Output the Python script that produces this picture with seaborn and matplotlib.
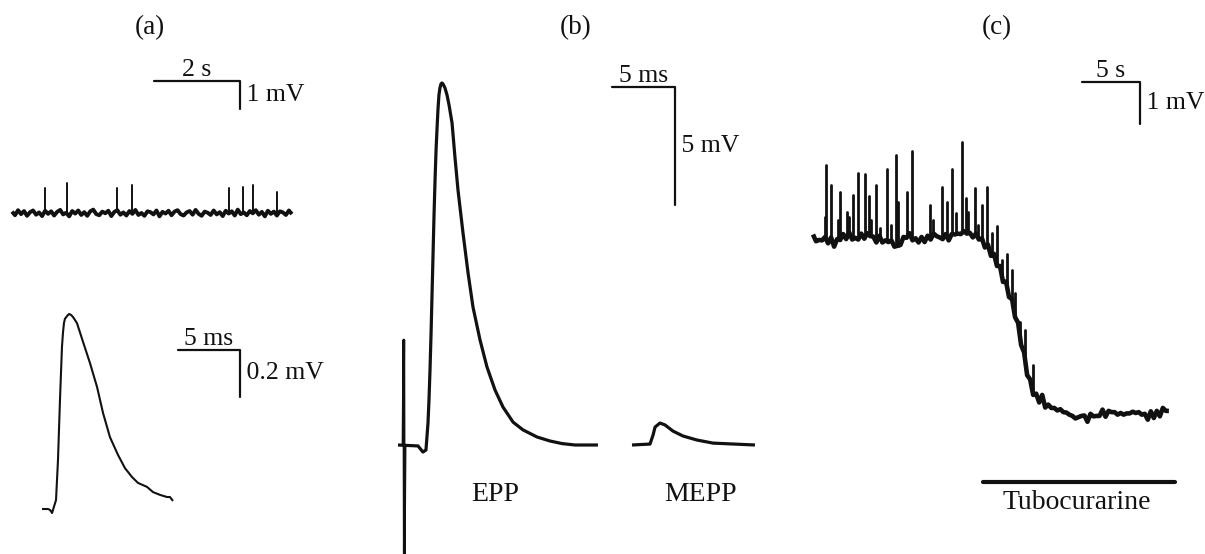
import numpy as np
import pandas as pd
import matplotlib
matplotlib.use("Agg")
import matplotlib.pyplot as plt
import seaborn as sns

# ---- data ----
# (a) top: spontaneous MEPPs, time in s, potential in mV
a_noise = [0.05, -0.08, 0.10, -0.04, 0.07, -0.10, 0.03, 0.09, -0.06, 0.02,
           -0.11, 0.08, -0.03, 0.06, -0.09, 0.04, 0.11, -0.05, 0.01, -0.12,
           0.07, -0.02, 0.09, -0.07, 0.03, -0.10, 0.06, 0.12, -0.04, -0.08,
           0.05, -0.01, 0.08, -0.11, 0.04, 0.10, -0.06, 0.02, -0.09, 0.07,
           -0.03, 0.11, -0.07, 0.00, -0.10, 0.06, 0.03, -0.05, 0.09, -0.12,
           0.04, -0.02, 0.08, -0.08, 0.05, 0.10, -0.04, -0.09, 0.02, 0.07,
           -0.06, 0.11, -0.03, -0.10, 0.05, 0.01, -0.07, 0.09, -0.05, 0.03,
           -0.11, 0.08, -0.02, 0.06, -0.09, 0.12, -0.04, 0.02, -0.08, 0.07,
           -0.01, 0.10, -0.06, 0.04, -0.12, 0.08, -0.03, 0.05, -0.09, 0.06,
           0.02, -0.07, 0.09, -0.04]
a_dt = 0.07
a_spike_t = [0.77, 1.28, 2.44, 2.79, 5.05, 5.37, 5.60, 6.16]
a_spike_v = [0.89, 1.07, 0.89, 1.00, 0.89, 0.93, 1.00, 0.75]

# (a) bottom: single MEPP, time in ms, potential in mV
mepp_a_t = [0, 0.48, 0.65, 0.81, 1.13, 1.29, 1.45, 1.61, 1.69, 1.77, 1.85,
            2.02, 2.18, 2.34, 2.50, 2.82, 3.31, 3.87, 4.44, 4.92, 5.48, 6.13,
            6.69, 7.26, 7.74, 8.47, 8.95, 9.52, 10.08, 10.32, 10.56]
mepp_a_v = [0, 0, -0.004, -0.017, 0.038, 0.209, 0.464, 0.689, 0.749, 0.791,
            0.809, 0.821, 0.830, 0.826, 0.817, 0.791, 0.711, 0.621, 0.519,
            0.409, 0.306, 0.230, 0.174, 0.136, 0.111, 0.094, 0.072, 0.060,
            0.051, 0.051, 0.034]

# (b) EPP and MEPP, time in ms, potential in mV
epp_t = [0, 1.59, 1.98, 2.22, 2.38, 2.46, 2.54, 2.62, 2.70, 2.78, 2.86, 2.94,
         3.02, 3.10, 3.17, 3.25, 3.33, 3.41, 3.49, 3.57, 3.73, 3.89, 4.05,
         4.29, 4.52, 4.76, 5.16, 5.56, 5.95, 6.51, 7.06, 7.70, 8.33, 9.13,
         9.92, 11.03, 12.06, 13.02, 14.05, 15.87]
epp_v = [0, -0.04, -0.30, -0.21, 0.93, 1.91, 3.18, 4.66, 6.36, 8.05, 9.75,
         11.23, 12.50, 13.43, 14.19, 14.83, 15.13, 15.30, 15.34, 15.30, 15.13,
         14.83, 14.41, 13.64, 12.20, 10.81, 8.98, 7.29, 5.85, 4.45, 3.31, 2.33,
         1.61, 0.97, 0.64, 0.34, 0.17, 0.06, 0, 0]
artifact_t = [0.40, 0.46, 0.50, 0.56]
artifact_v = [0, 4.45, -4.6, 0]
mepp_b_t = [0, 1.43, 1.67, 1.83, 2.22, 2.62, 3.25, 4.05, 5.16, 6.43, 9.76]
mepp_b_v = [0, 0.04, 0.42, 0.76, 0.93, 0.85, 0.59, 0.38, 0.21, 0.08, 0]

# (c) tubocurarine block, time in s, potential in mV
c_dt = 0.26
c_base = [0.02, -0.05, -0.10, -0.02, -0.05, -0.12, -0.07, -0.19, -0.07, -0.02,
          0.02, -0.02, 0.07, 0.00, -0.05, -0.02, 0.02, -0.02, 0.05, 0.07,
          -0.02, -0.07, -0.02, -0.10, -0.12, -0.07, -0.14, -0.19, -0.24, -0.14,
          -0.05, 0.02, 0.07, -0.02, -0.07, -0.10, -0.05, -0.07, 0.00, -0.02,
          0.02, 0.05, -0.05, 0.00, 0.05, -0.02, 0.02, 0.10, 0.05, 0.12,
          0.10, 0.14, 0.05, 0.02, 0.02, -0.02, -0.10, -0.17, -0.24, -0.36,
          -0.48, -0.62, -0.79, -0.98, -1.14, -1.33, -1.57, -1.83, -2.14, -2.48,
          -2.83, -3.19, -3.48, -3.69, -3.81, -3.88, -3.83, -3.98, -4.05, -4.00,
          -4.12, -4.07, -4.17, -4.12, -4.24, -4.19, -4.31, -4.26, -4.33, -4.21,
          -4.31, -4.36, -4.26, -4.21, -4.29, -4.21, -4.17, -4.24, -4.19, -4.14,
          -4.21, -4.17, -4.24, -4.19, -4.26, -4.17, -4.21, -4.14, -4.21, -4.17,
          -4.26, -4.31, -4.21, -4.26, -4.17, -4.21, -4.12, -4.10, -4.17]
c_fuzz = [0.04, -0.05, 0.03, -0.06, 0.05, -0.03, 0.06, -0.04, 0.02, -0.05,
          0.05, -0.03, 0.04, -0.06, 0.03, -0.04, 0.06, -0.02, 0.04, -0.05,
          0.03, -0.06, 0.05, -0.03, 0.04, -0.05, 0.06, -0.04, 0.03, -0.05,
          0.05, -0.04, 0.02, -0.06, 0.04, -0.03, 0.05, -0.05, 0.03, -0.04,
          0.06, -0.03, 0.04, -0.05, 0.02, -0.06, 0.05, -0.04, 0.03, -0.05,
          0.04, -0.06, 0.05, -0.03, 0.06, -0.04, 0.07, -0.08, 0.06, -0.09,
          0.08, -0.07, 0.10, -0.09, 0.08, -0.10, 0.09, -0.08, 0.10, -0.09,
          0.08, -0.10, 0.09, -0.07, 0.08, -0.06, 0.07, -0.08, 0.06, -0.07,
          0.05, -0.06, 0.07, -0.05, 0.06, -0.04, 0.05, -0.06, 0.04, -0.05,
          0.06, -0.04, 0.05, -0.06, 0.03, -0.05, 0.06, -0.04, 0.05, -0.03,
          0.04, -0.06, 0.05, -0.04, 0.06, -0.03, 0.05, -0.05, 0.04, -0.06,
          0.05, -0.04, 0.06, -0.05, 0.03, -0.06, 0.05, -0.04, 0.03]
c_spike_t = [1.03, 1.12, 1.55, 2.16, 2.33, 2.93, 3.10, 3.45, 3.88, 4.48, 4.83,
             5.00, 5.43, 5.78, 6.38, 6.72, 7.16, 7.33, 8.10, 8.53, 10.09, 10.34,
             11.12, 11.55, 11.98, 12.33, 12.84, 13.19, 13.36, 13.97, 14.22,
             14.57, 15.00, 15.43, 15.86, 16.29, 16.72, 17.16, 17.41, 17.84,
             18.28, 18.97]
c_spike_v = [0.48, 1.71, 1.24, 0.40, 1.07, 0.60, 0.48, 1.00, 1.52, 1.50, 0.98,
             0.40, 1.24, 0.21, 1.62, 0.29, 1.95, 0.83, 1.07, 2.05, 0.76, 0.40,
             1.19, 0.83, 1.62, 0.57, 2.26, 0.93, 0.60, 1.17, 0.29, 0.76, 1.19,
             0.10, 0.26, -0.55, -0.40, -0.79, -1.33, -2.02, -2.21, -3.05]
drug_t = [14.66, 31.2]  # tubocurarine application, s

# ---- figure ----
W, H = 1205, 554
sns.set_theme(style="white")
plt.rcParams["font.family"] = ["Liberation Serif", "DejaVu Serif"]
FS_BAR = 18.5
FS_LAB = 20
INK = "#111111"

fig = plt.figure(figsize=(W / 100, H / 100), dpi=100)


def trace_axes(x0, y0, sx, sy):
    # full-figure transparent axes whose data origin sits at pixel (x0, y0)
    ax = fig.add_axes([0, 0, 1, 1])
    ax.set_xlim(-x0 / sx, (W - x0) / sx)
    ax.set_ylim(-(H - y0) / sy, y0 / sy)
    ax.axis("off")
    ax.patch.set_alpha(0)
    return ax


def trace(ax, t, v, lw):
    sns.lineplot(x=t, y=v, ax=ax, color=INK, lw=lw, sort=False,
                 estimator=None, solid_joinstyle="round",
                 solid_capstyle="butt")


def spikes(ax, base_t, base_v, st, sv, lw):
    b = np.interp(st, base_t, base_v)
    df = pd.DataFrame({"t": np.repeat(st, 2),
                       "v": np.ravel(np.column_stack([b, sv])),
                       "id": np.repeat(np.arange(len(st)), 2)})
    sns.lineplot(data=df, x="t", y="v", units="id", estimator=None, ax=ax,
                 color=INK, lw=lw, sort=False)


def scalebar(ax, tx, vy, dx, dy, xlab, ylab, lw=1.6):
    sns.lineplot(x=[tx - dx, tx, tx], y=[vy, vy, vy - dy], ax=ax, color=INK,
                 lw=lw, sort=False, estimator=None)
    ax.text(tx - dx / 2, vy, xlab, ha="center", va="bottom",
            fontsize=FS_BAR, color=INK)
    ax.text(tx, vy - dy / 2, " " + ylab, ha="left", va="center",
            fontsize=FS_BAR, color=INK)


# (a) top
ax_a1 = trace_axes(12, 213, 43.0, 28.0)
a_t = np.arange(len(a_noise)) * a_dt
trace(ax_a1, a_t, a_noise, 2.8)
spikes(ax_a1, a_t, a_noise, a_spike_t, a_spike_v, 1.4)
scalebar(ax_a1, 5.30, 4.71, 2, 1, "2 s", "1 mV")

# (a) bottom
ax_a2 = trace_axes(42, 509, 12.4, 235.0)
trace(ax_a2, mepp_a_t, mepp_a_v, 1.5)
scalebar(ax_a2, 15.97, 0.677, 5, 0.2, "5 ms", "0.2 mV")

# (b) EPP
ax_b1 = trace_axes(398, 445, 12.6, 23.6)
trace(ax_b1, epp_t, epp_v, 2.3)
trace(ax_b1, artifact_t, artifact_v, 2.0)
scalebar(ax_b1, 21.98, 15.17, 5, 5, "5 ms", "5 mV")
ax_b1.text(7.7, -2.1, "EPP", ha="center", va="center", fontsize=FS_LAB,
           color=INK)

# (b) MEPP
ax_b2 = trace_axes(632, 445, 12.6, 23.6)
trace(ax_b2, mepp_b_t, mepp_b_v, 2.3)
ax_b2.text(5.4, -2.1, "MEPP", ha="center", va="center", fontsize=FS_LAB,
           color=INK)

# (c)
ax_c = trace_axes(813, 237, 11.6, 42.0)
c_t = np.arange(len(c_base)) * c_dt
c_trace = np.array(c_base) + np.array(c_fuzz)
trace(ax_c, c_t, c_trace, 3.3)
spikes(ax_c, c_t, c_trace, c_spike_t, c_spike_v, 2.0)
scalebar(ax_c, 28.19, 3.69, 5, 1, "5 s", "1 mV")
sns.lineplot(x=drug_t, y=[-5.83, -5.83], ax=ax_c, color=INK, lw=3,
             estimator=None)
ax_c.text(np.mean(drug_t) - 0.2, -6.33, "Tubocurarine", ha="center",
          va="center", fontsize=FS_LAB, color=INK)

for lab, xp in [("(a)", 150), ("(b)", 576), ("(c)", 997)]:
    fig.text(xp / W, 1 - 28 / H, lab, ha="center", va="center",
             fontsize=19.5, color=INK)

fig.savefig("out.png", dpi=100)
